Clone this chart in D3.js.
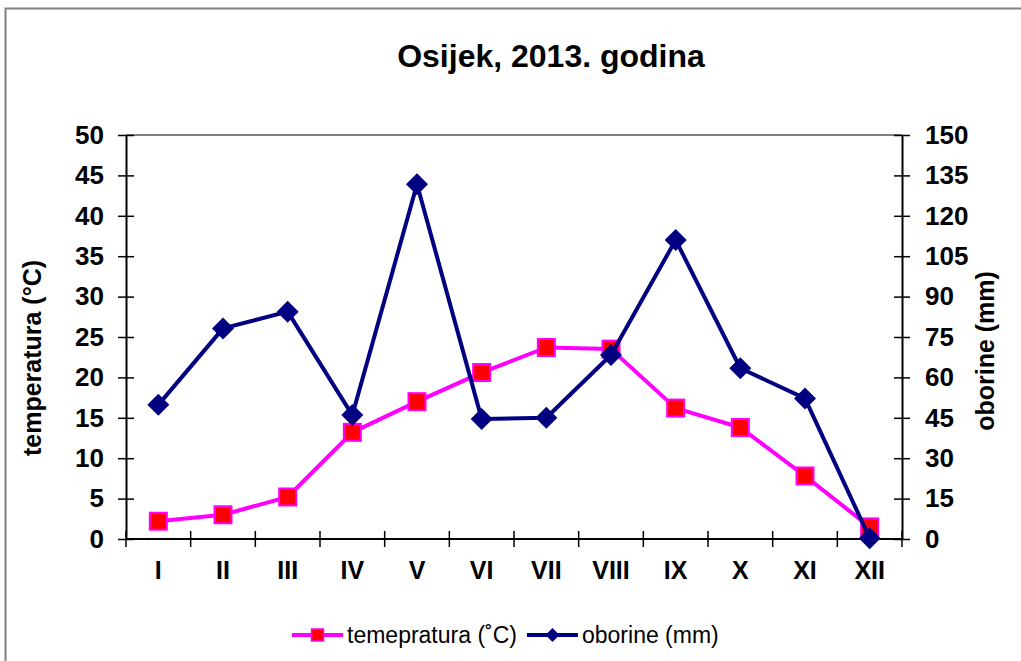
<!DOCTYPE html>
<html>
<head>
<meta charset="utf-8">
<script src="https://cdn.jsdelivr.net/npm/d3@7"></script>
<style>
  html, body { margin: 0; padding: 0; background: #fff; }
  svg { display: block; font-family: "Liberation Sans", Arial, sans-serif; }
</style>
</head>
<body>
<svg id="chart" width="1021" height="661"></svg>
<script>
const months = ["I","II","III","IV","V","VI","VII","VIII","IX","X","XI","XII"];
const temperature = [2.2, 3.0, 5.2, 13.2, 17.0, 20.6, 23.7, 23.5, 16.2, 13.8, 7.8, 1.5];
const precipitation = [49.8, 78.2, 84.4, 46.0, 131.7, 44.6, 45.0, 68.3, 111.0, 63.4, 52.2, 0.3];
const tempTicks = [0,5,10,15,20,25,30,35,40,45,50];
const precTicks = [0,15,30,45,60,75,90,105,120,135,150];
const title = "Osijek, 2013. godina";
const leftTitle = "temperatura (°C)";
const rightTitle = "oborine (mm)";
const legendLabels = ["temepratura (˚C)", "oborine (mm)"];

const svg = d3.select("#chart");
const L = 126, R = 902, T = 135, B = 539;

// outer frame
svg.append("rect").attr("x", 5.5).attr("y", 8.5).attr("width", 1100).attr("height", 700)
  .attr("fill", "none").attr("stroke", "#808080").attr("stroke-width", 2);

const x = d3.scaleBand().domain(months).range([L, R]).padding(0);
const yT = d3.scaleLinear().domain([0, 50]).range([B, T]);
const yP = d3.scaleLinear().domain([0, 150]).range([B, T]);

// title
svg.append("text").attr("x", 551).attr("y", 67).attr("text-anchor", "middle")
  .attr("font-size", 32).attr("font-weight", "bold").attr("fill", "#000").text(title);

// top border of plot
svg.append("line").attr("x1", L).attr("x2", R).attr("y1", T).attr("y2", T)
  .attr("stroke", "#808080").attr("stroke-width", 2);

// left axis
const gL = svg.append("g").attr("transform", `translate(${L},0)`)
  .call(d3.axisLeft(yT).tickValues(tempTicks).tickSize(8).tickPadding(14).tickSizeOuter(0));
gL.select(".domain").attr("stroke", "#000").attr("stroke-width", 2);
gL.selectAll(".tick line").attr("x1", 8).attr("x2", -8).attr("stroke", "#000").attr("stroke-width", 1.5);
gL.selectAll(".tick text").attr("x", -22).attr("font-size", 26).attr("font-weight", "bold")
  .attr("font-family", "Liberation Sans, Arial, sans-serif").attr("fill", "#000");

// right axis
const gR = svg.append("g").attr("transform", `translate(${R},0)`)
  .call(d3.axisRight(yP).tickValues(precTicks).tickSize(8).tickPadding(14).tickSizeOuter(0));
gR.select(".domain").attr("stroke", "#000").attr("stroke-width", 2);
gR.selectAll(".tick line").attr("x1", -8).attr("x2", 8).attr("stroke", "#000").attr("stroke-width", 1.5);
gR.selectAll(".tick text").attr("x", 23).attr("font-size", 26).attr("font-weight", "bold")
  .attr("font-family", "Liberation Sans, Arial, sans-serif").attr("fill", "#000");

// bottom axis (category boundaries)
const boundaries = months.map(m => x(m)).concat([R]);
const gB = svg.append("g");
gB.append("line").attr("x1", L).attr("x2", R).attr("y1", B).attr("y2", B)
  .attr("stroke", "#000").attr("stroke-width", 2);
gB.selectAll("line.tk").data(boundaries).enter().append("line").attr("class", "tk")
  .attr("x1", d => d).attr("x2", d => d).attr("y1", B - 8).attr("y2", B + 8)
  .attr("stroke", "#000").attr("stroke-width", 1.5);
gB.selectAll("text").data(months).enter().append("text")
  .attr("x", d => x(d) + x.bandwidth() / 2).attr("y", 579).attr("text-anchor", "middle")
  .attr("font-size", 25).attr("font-weight", "bold").attr("fill", "#000").text(d => d);

// axis titles
svg.append("text").attr("transform", "translate(41,358) rotate(-90)").attr("text-anchor", "middle")
  .attr("font-size", 25).attr("font-weight", "bold").attr("fill", "#000").text(leftTitle);
svg.append("text").attr("transform", "translate(994,351) rotate(-90)").attr("text-anchor", "middle")
  .attr("font-size", 25).attr("font-weight", "bold").attr("fill", "#000").text(rightTitle);

const cx = d => x(d) + x.bandwidth() / 2;

// temperature series
const lineT = d3.line().x((d, i) => cx(months[i])).y(d => yT(d));
svg.append("path").datum(temperature).attr("d", lineT).attr("fill", "none")
  .attr("stroke", "#FF00FF").attr("stroke-width", 4).attr("stroke-linejoin", "round");
const sq = 17;
svg.selectAll("rect.t").data(temperature).enter().append("rect").attr("class", "t")
  .attr("x", (d, i) => cx(months[i]) - sq / 2).attr("y", d => yT(d) - sq / 2)
  .attr("width", sq).attr("height", sq).attr("fill", "#FF0000").attr("stroke", "#FF00FF").attr("stroke-width", 2);

// precipitation series
const lineP = d3.line().x((d, i) => cx(months[i])).y(d => yP(d));
svg.append("path").datum(precipitation).attr("d", lineP).attr("fill", "none")
  .attr("stroke", "#000080").attr("stroke-width", 4).attr("stroke-linejoin", "round");
const dm = 11;
svg.selectAll("path.p").data(precipitation).enter().append("path").attr("class", "p")
  .attr("d", (d, i) => {
    const px = cx(months[i]), py = yP(d);
    return `M${px},${py - dm}L${px + dm},${py}L${px},${py + dm}L${px - dm},${py}Z`;
  })
  .attr("fill", "#000080");

// legend
const ly = 635;
const lg = svg.append("g");
lg.append("line").attr("x1", 292).attr("x2", 343).attr("y1", ly).attr("y2", ly)
  .attr("stroke", "#FF00FF").attr("stroke-width", 4);
lg.append("rect").attr("x", 317.5 - 6).attr("y", ly - 6).attr("width", 12).attr("height", 12)
  .attr("fill", "#FF0000").attr("stroke", "#FF00FF").attr("stroke-width", 1.5);
lg.append("text").attr("x", 347).attr("y", ly + 8).attr("font-size", 23).attr("fill", "#000").text(legendLabels[0]);
lg.append("line").attr("x1", 527).attr("x2", 578).attr("y1", ly).attr("y2", ly)
  .attr("stroke", "#000080").attr("stroke-width", 4);
lg.append("path").attr("d", `M552.5,${ly - 7}L559.5,${ly}L552.5,${ly + 7}L545.5,${ly}Z`).attr("fill", "#000080");
lg.append("text").attr("x", 582).attr("y", ly + 8).attr("font-size", 23).attr("fill", "#000").text(legendLabels[1]);
</script>
</body>
</html>
